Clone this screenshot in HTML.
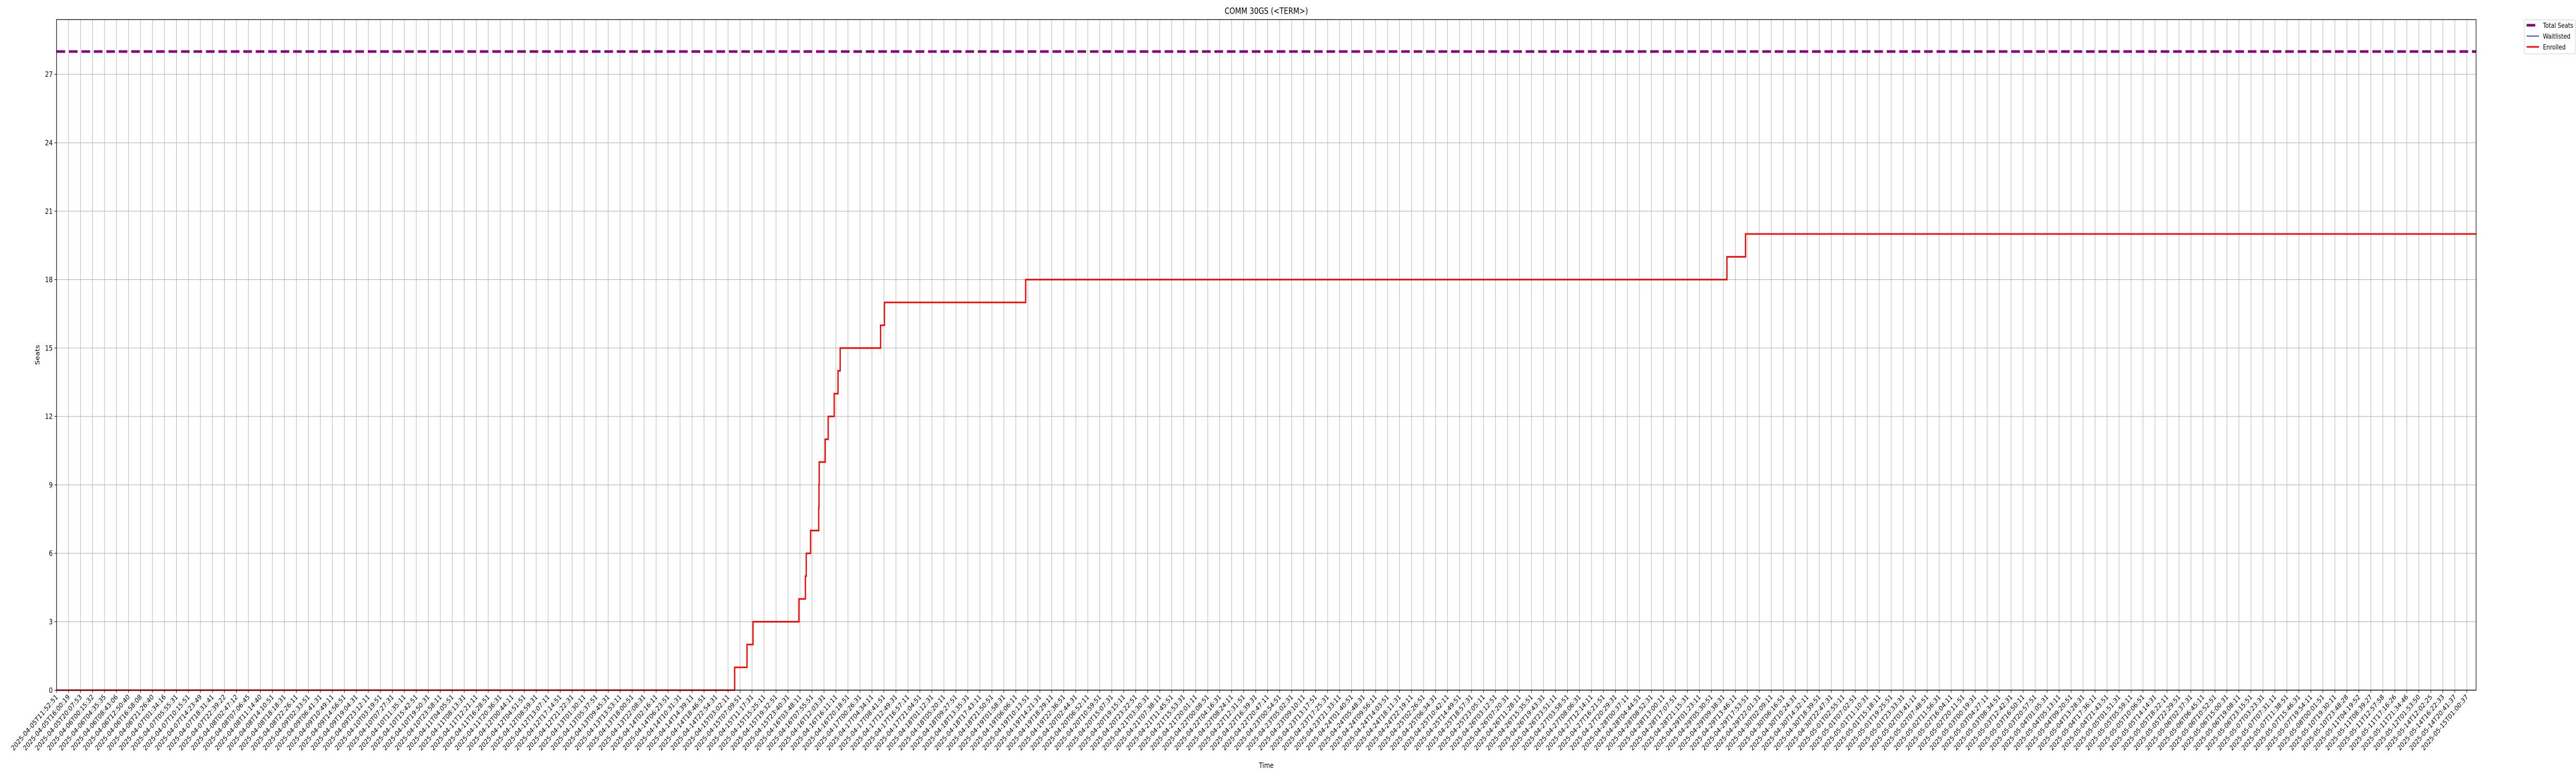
<!DOCTYPE html>
<html><head><meta charset="utf-8"><style>
html,body{margin:0;padding:0;background:#fff;width:100%;height:100%;overflow:hidden}
svg{display:block;position:fixed;left:0;top:0;width:100vw;height:100vh;font-family:"DejaVu Sans","Liberation Sans",sans-serif;overflow:hidden}
</style></head><body>
<svg id="chart" viewBox="0 0 6000 1500" preserveAspectRatio="none"></svg>
<script>
// ---- data ----
const totalSeats = 28;
const waitlistedValue = 0;
const enrolledStepIdx = [56.55,57.58,58.08,61.91,62.45,62.52,62.88,63.56,63.58,63.60,64.10,64.35,64.85,65.17,65.35,68.72,69.04,80.82,139.3,140.85];
const enrolledValues  = [1,2,3,4,5,6,7,8,9,10,11,12,13,14,15,16,17,18,19,20];
const yTicks = [0,3,6,9,12,15,18,21,24,27];
const tickCount = 202;
const knownLabelsStart = ["2025-04-05T11:52:51","2025-04-05T16:00:19","2025-04-05T20:07:53","2025-04-06T00:15:32","2025-04-06T04:35:35","2025-04-06T08:43:06","2025-04-06T12:50:40","2025-04-06T16:58:08","2025-04-06T21:26:40","2025-04-07T01:34:16","2025-04-07T05:55:31","2025-04-07T10:15:51","2025-04-07T14:23:49","2025-04-07T18:31:41","2025-04-07T22:39:22","2025-04-08T02:47:12","2025-04-08T07:06:45","2025-04-08T11:14:40"];
const knownLabelsEnd = ["2025-05-10T19:30:11","2025-05-10T23:48:28","2025-05-11T04:19:52","2025-05-11T08:39:27","2025-05-11T12:57:58","2025-05-11T17:16:26","2025-05-11T21:34:46","2025-05-12T01:53:50","2025-05-14T12:02:25","2025-05-14T16:22:33","2025-05-14T20:41:37","2025-05-15T01:00:37"];

// ---- layout ----
const L=131.7, R=5767.3, T=38, B=1339.3;
const step=27.93;
const xMax=(R-L)/step;
const yMaxV=29.4;
const X=i=>L+i*step;
const Y=v=>B-(v/yMaxV)*(B-T);
const NS="http://www.w3.org/2000/svg";
const svg=document.getElementById('chart');
function mk(tag,attrs,parent){const e=document.createElementNS(NS,tag);for(const k in attrs)e.setAttribute(k,attrs[k]);(parent||svg).appendChild(e);return e;}

// tick labels
const tickLabels=[];
const pad=n=>String(n).padStart(2,'0');
let t0=Date.UTC(2025,3,5,11,52,51);
for(let i=0;i<tickCount;i++){
  const d=new Date(t0+i*14860000);
  tickLabels.push(`${d.getUTCFullYear()}-${pad(d.getUTCMonth()+1)}-${pad(d.getUTCDate())}T${pad(d.getUTCHours())}:${pad(d.getUTCMinutes())}:${pad(d.getUTCSeconds())}`);
}
knownLabelsStart.forEach((s,i)=>tickLabels[i]=s);
knownLabelsEnd.forEach((s,i)=>tickLabels[tickCount-knownLabelsEnd.length+i]=s);

// grid
const grid=mk('g',{});


for(let i=0;i<tickCount;i++){
  mk('line',{x1:X(i),x2:X(i),y1:T,y2:B,stroke:'#b0b0b0','stroke-width':1.1},grid);
}
yTicks.forEach(v=>{mk('line',{x1:L,x2:R,y1:Y(v),y2:Y(v),stroke:'#b0b0b0','stroke-width':1.1},grid);});

// total seats
const ts=mk('line',{x1:L,x2:R,y1:Y(totalSeats),y2:Y(totalSeats),stroke:'#800080','stroke-width':5,'stroke-dasharray':'20 9'});



// waitlisted
const wl=mk('line',{x1:L,x2:R,y1:Y(waitlistedValue),y2:Y(waitlistedValue),stroke:'#0000ff','stroke-width':1.5});



// enrolled step
let d=`M${L},${Y(0)}`;
enrolledStepIdx.forEach((ix,k)=>{d+=` H${X(ix)} V${Y(enrolledValues[k])}`;});
d+=` H${X(xMax)}`;
const en=mk('path',{d:d,fill:'none',stroke:'#ff0000','stroke-width':3});



// axes frame
const fr=mk('rect',{x:L,y:T,width:R-L,height:B-T,fill:'none',stroke:'#000','stroke-width':1.3});



// y ticks
yTicks.forEach(v=>{
  mk('line',{x1:L-5,x2:L,y1:Y(v),y2:Y(v),stroke:'#000','stroke-width':1.1});
  const tx=mk('text',{x:L-9,y:Y(v)+5,'text-anchor':'end','font-size':14,fill:'#000'});
  tx.textContent=v;
  
  
});
// x ticks
for(let i=0;i<tickCount;i++){
  const x=X(i);
  mk('line',{x1:x,x2:x,y1:B,y2:B+5,stroke:'#000','stroke-width':1.1});
  const tx=mk('text',{x:x+4,y:B+14,'text-anchor':'end','font-size':13.5,fill:'#000',transform:`rotate(-45 ${x+4} ${B+14})`});
  tx.textContent=tickLabels[i];
  
  
}

// titles
const title=mk('text',{x:(L+R)/2,y:27,'text-anchor':'middle','font-size':16.5,fill:'#000'});
title.textContent='COMM 30GS (<TERM>)';


const xl=mk('text',{x:(L+R)/2,y:1490,'text-anchor':'middle','font-size':14,fill:'#000'});
xl.textContent='Time';


const yl=mk('text',{x:92,y:(T+B)/2,'text-anchor':'middle','font-size':14,fill:'#000',transform:`rotate(-90 92 ${(T+B)/2})`});
yl.textContent='Seats';



// legend
const lg=mk('g',{});


mk('rect',{x:5879.5,y:38.5,width:119,height:66,rx:3,fill:'#fff',stroke:'#d0d0d0','stroke-width':1},lg);
const entries=[['Total Seats','#800080',5,'20 9'],['Waitlisted','#0000ff',1.5,''],['Enrolled','#ff0000',3,'']];
entries.forEach((e,k)=>{
  const y=49+k*21;
  const g=mk('g',{},lg);
  
  
  const a={x1:5885,x2:5914,y1:y,y2:y,stroke:e[1],'stroke-width':e[2]};
  if(e[3])a['stroke-dasharray']=e[3];
  mk('line',a,g);
  const tx=mk('text',{x:5923,y:y+5,'font-size':13,fill:'#000'},g);
  tx.textContent=e[0];
});
</script>
</body></html>
